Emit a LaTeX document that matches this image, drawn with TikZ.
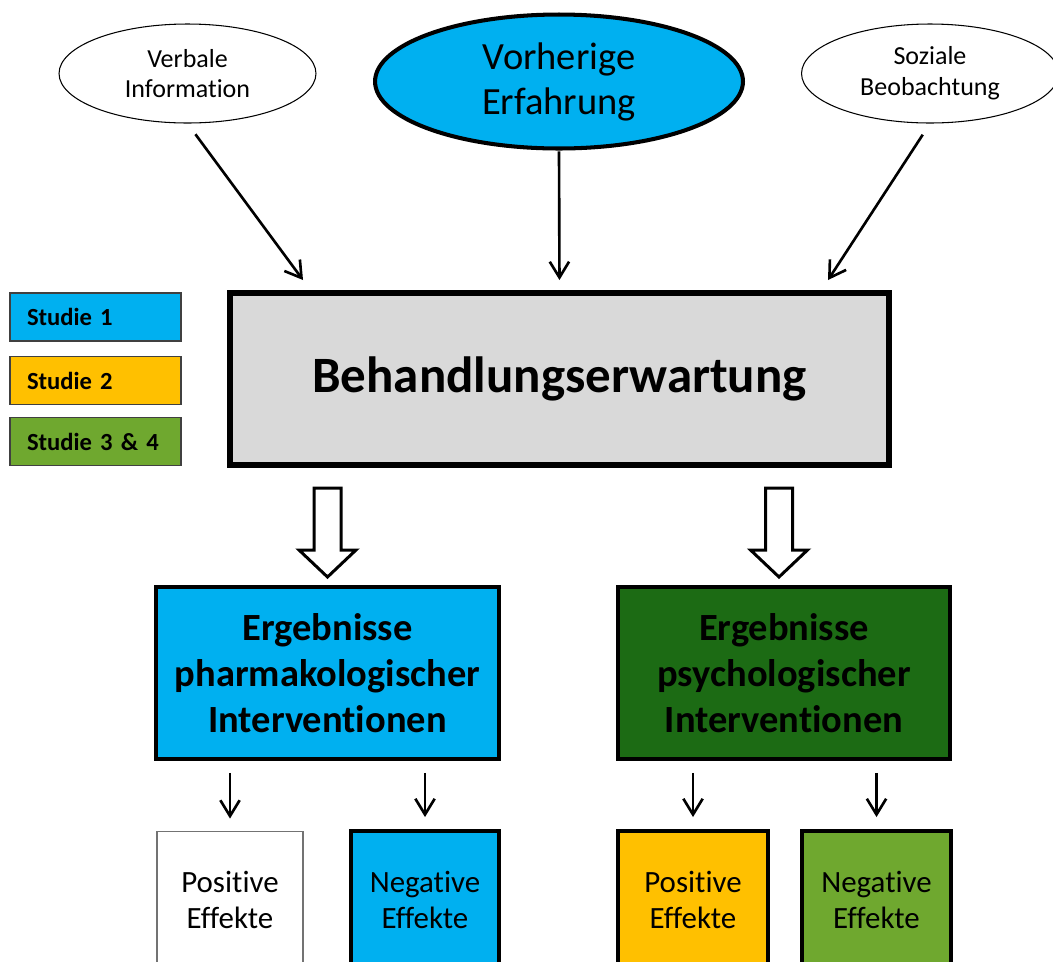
\documentclass[tikz,border=0pt]{standalone}
\usepackage{fontspec}
\setmainfont{Carlito}[Ligatures=NoCommon]
\usetikzlibrary{arrows.meta,shapes.geometric}
\definecolor{studyblue}{HTML}{00B0F0}
\definecolor{studyorange}{HTML}{FFC000}
\definecolor{studygreen}{HTML}{6FA82F}
\definecolor{darkgreen}{HTML}{1C6B14}
\definecolor{boxgray}{HTML}{D9D9D9}

\begin{document}
\begin{tikzpicture}[x=0.02cm,y=-0.02cm,line width=1.5pt,>={Straight Barb[length=9pt,width=11pt]},
  source/.style={ellipse,draw,line width=0.6pt,inner sep=0pt,minimum width=5.14cm,minimum height=1.98cm,align=center,font=\fontsize{14.8}{17.5}\selectfont},
  key/.style={rectangle,draw=black!75,line width=0.6pt,text width=2.74cm,inner xsep=0.34cm,inner ysep=0pt,minimum height=0.96cm,align=left,font=\fontsize{14}{16}\selectfont\bfseries},
  result/.style={rectangle,draw,line width=2.3pt,inner sep=0pt,minimum width=6.8cm,minimum height=3.44cm,align=center,font=\fontsize{21.9}{26.2}\selectfont\bfseries},
  effect/.style={rectangle,draw,line width=2.3pt,inner sep=0pt,minimum width=2.95cm,minimum height=2.76cm,align=center,font=\fontsize{17.6}{21}\selectfont},
  blockarrow/.style={draw,line width=1.7pt,fill=white,line join=miter}]
\useasboundingbox (0,0) rectangle (1053,961);
\clip (0,0) rectangle (1053,961);
% sources of expectation
\node[source] (verbal) at (187.5,73.5) {Verbale\\Information};
\node[source,line width=2.3pt,fill=studyblue,minimum width=7.36cm,minimum height=2.68cm,font=\fontsize{21.9}{25.6}\selectfont] (prior) at (559,81.5) {Vorherige\\Erfahrung};
\node[source] (social) at (930,73.5) {Soziale\\Beobachtung};
% central box
\node[rectangle,draw,line width=3.4pt,fill=boxgray,minimum width=13.18cm,minimum height=3.44cm,font=\fontsize{29}{34}\selectfont\bfseries] (expect) at (559.5,379) {Behandlungserwartung};
% legend
\node[key,fill=studyblue] (study1) at (95.5,317) {Studie 1};
\node[key,fill=studyorange] (study2) at (95.5,380.5) {Studie 2};
\node[key,fill=studygreen] (study34) at (95.5,441.5) {Studie 3 \& 4};
% arrows into the central box
\coordinate (vin) at (303,280);
\coordinate (sin) at (828,280);
\draw[->,shorten <=7.6pt] (verbal.south) -- (vin);
\draw[->,shorten <=0.5pt,shorten >=5.7pt] (prior.south) -- (expect.north);
\draw[->,shorten <=7.6pt] (social.south) -- (sin);
% two kinds of intervention
\node[result,fill=studyblue,minimum width=6.86cm] (pharm) at (327.5,673) {Ergebnisse\\pharmakologischer\\Interventionen};
\node[result,fill=darkgreen,minimum width=6.64cm] (psych) at (784,673) {Ergebnisse\\psychologischer\\Interventionen};
% hollow block arrows
\foreach \c in {327.5,779} {
  \draw[blockarrow] ({\c-13.5},488) -- ({\c+13.5},488) -- ({\c+13.5},550) -- ({\c+28.5},550)
    -- (\c,577) -- ({\c-28.5},550) -- ({\c-13.5},550) -- cycle;
}
% effects
\node[effect,draw=black!55,line width=0.6pt,minimum width=2.92cm] (pos1) at (230,900) {Positive\\Effekte};
\node[effect,fill=studyblue,minimum width=2.96cm] (neg1) at (425,900) {Negative\\Effekte};
\node[effect,fill=studyorange,minimum width=3cm] (pos2) at (693,900) {Positive\\Effekte};
\node[effect,fill=studygreen,minimum width=2.98cm] (neg2) at (876.5,900) {Negative\\Effekte};
% small arrows down to effects
\draw[->,shorten <=6.8pt,shorten >=6.8pt] (pos1.north |- pharm.south) -- (pos1.north);
\draw[->,shorten <=6.8pt,shorten >=6.8pt] (neg1.north |- pharm.south) -- (neg1.north);
\draw[->,shorten <=6.8pt,shorten >=6.8pt] (pos2.north |- psych.south) -- (pos2.north);
\draw[->,shorten <=6.8pt,shorten >=6.8pt] (neg2.north |- psych.south) -- (neg2.north);
\end{tikzpicture}
\end{document}
